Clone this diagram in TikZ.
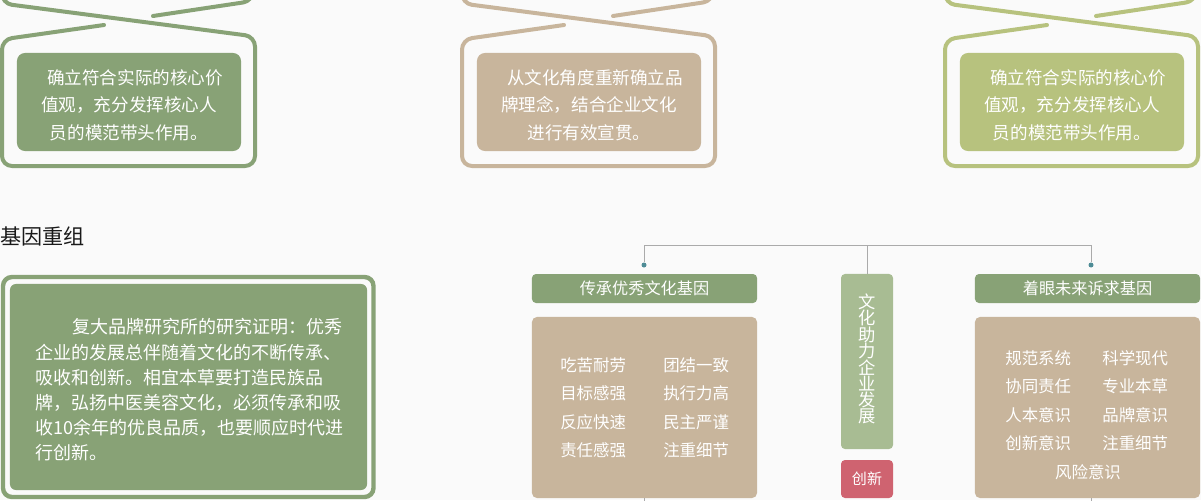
\documentclass[tikz,border=0pt]{standalone}
\usepackage{fontspec}
\newfontfamily\cjk{Noto Sans CJK SC}
\definecolor{paper}{HTML}{FAFAFA}
\definecolor{sagegreen}{HTML}{88A276}
\definecolor{sand}{HTML}{C8B59C}
\definecolor{limegreen}{HTML}{B7C27E}
\definecolor{mistgreen}{HTML}{A8BC93}
\definecolor{rosered}{HTML}{CF6370}
\definecolor{dotteal}{HTML}{4E8C96}
\definecolor{wiregray}{HTML}{AAAAAA}
\begin{document}
\begin{tikzpicture}[x=0.025cm,y=-0.025cm,
		frame/.style={line width=0.1cm,line cap=round,rounded corners=0.25cm},
		toppanel/.style={rounded corners=0.2cm,minimum width=5.6cm,minimum height=2.45cm,inner sep=0},
		toptext/.style={inner sep=0,text=white,align=center,font=\cjk\fontsize{12.5}{19.6}\selectfont},
		para/.style={anchor=west,inner sep=0,text=white,font=\cjk\fontsize{12.8}{15}\selectfont},
		hdr/.style={fill=sagegreen,rounded corners=0.1cm,minimum width=5.625cm,minimum height=0.725cm,inner sep=0,text=white,font=\cjk\fontsize{11.5}{14}\selectfont},
		listbox/.style={fill=sand,rounded corners=0.125cm,minimum width=5.625cm,minimum height=4.525cm,inner sep=0},
		item/.style={inner sep=0,text=white,font=\cjk\fontsize{11.7}{14}\selectfont},
		wire/.style={draw=wiregray,line width=0.025cm},
		dot/.style={circle,fill=dotteal,inner sep=0,minimum size=0.125cm}]
		\useasboundingbox (0,0) rectangle (1201,500);
		\fill[paper] (0,0) rectangle (1201,500);
		\foreach \o/\c/\la/\lb/\lc in {0/sagegreen/确立符合实际的核心价/值观，充分发挥核心人/员的模范带头作用。,460/sand/从文化角度重新确立品/牌理念，结合企业文化/进行有效宣贯。,943/limegreen/确立符合实际的核心价/值观，充分发挥核心人/员的模范带头作用。}{
			\draw[frame,draw=\c] (\o+104,25) -- (\o+2,39.5) -- (\o+2,166) -- (\o+255,166) -- (\o+255,36.5) -- (\o+2,3.5) -- (\o+2,-40);
			\draw[frame,draw=\c] (\o+153,16) -- (\o+253,1) -- (\o+253,-40);
			\node[toppanel,fill=\c] (top\o) at (\o+129,102) {};
			\node[toptext] (topt\o) at (\o+129,105) {\hspace*{0.3cm}\la\\\lb\\\lc};
		}
		\node[anchor=west,inner sep=0,text=black!90,font=\cjk\fontsize{15}{18}\selectfont] (title) at (0,236) {基因重组};
		\draw[line width=0.11cm,draw=sagegreen,rounded corners=0.225cm] (3,277) rectangle (373.5,497);
		\node[fill=sagegreen,rounded corners=0.15cm,minimum width=8.925cm,minimum height=5.15cm,inner sep=0] (story) at (188.5,387) {};
		\foreach \x/\t [count=\i] in {72/复大品牌研究所的研究证明：优秀,35/企业的发展总伴随着文化的不断传承、,35/吸收和创新。相宜本草要打造民族品,35/牌，弘扬中医美容文化，必须传承和吸,35/收10余年的优良品质，也要顺应时代进,35/行创新。}
			\node[para] (line\i) at (\x,301.8+25.2*\i) {\t};
		\node[hdr] (heritage) at (644.5,288.5) {传承优秀文化基因};
		\node[listbox] (heritagelist) at (644.5,407.5) {};
		\foreach \a/\b [count=\i] in {吃苦耐劳/团结一致,目标感强/执行力高,反应快速/民主严谨,责任感强/注重细节}{
			\node[item,anchor=west] (ha\i) at (560,336.5+28.5*\i) {\a};
			\node[item,anchor=west] (hb\i) at (663,336.5+28.5*\i) {\b};
		}
		\node[hdr] (future) at (1087.5,288.5) {着眼未来诉求基因};
		\node[listbox] (futurelist) at (1087.5,407.5) {};
		\foreach \a/\b [count=\i] in {规范系统/科学现代,协同责任/专业本草,人本意识/品牌意识,创新意识/注重细节}{
			\node[item,anchor=west] (fa\i) at (1005,329.5+28.5*\i) {\a};
			\node[item,anchor=west] (fb\i) at (1102,329.5+28.5*\i) {\b};
		}
		\node[item] (fc) at (1088,472) {风险意识};
		\node[fill=mistgreen,rounded corners=0.1cm,minimum width=1.3cm,minimum height=4.375cm,inner sep=0] (boost) at (867,361.5) {};
		\foreach \t [count=\i] in {文,化,助,力,企,业,发,展}
			\node[inner sep=0,text=white,font=\cjk\fontsize{12.3}{14}\selectfont] (bc\i) at (867,285.6+16.4*\i) {\t};
		\node[fill=rosered,rounded corners=0.1cm,minimum width=1.3cm,minimum height=0.95cm,inner sep=0,text=white,font=\cjk\fontsize{10.7}{13}\selectfont] (innov) at (867,479) {创新};
		\coordinate (bar) at (0,245);
		\coordinate (floor) at (0,503);
		\node[dot] (dotA) at (644,265) {};
		\node[dot] (dotB) at (1091,265) {};
		\draw[wire] (dotA) -- (dotA |- bar) -- (dotB |- bar) -- (dotB);
		\draw[wire] (boost.north) -- (boost.north |- bar);
		\draw[wire] (heritagelist.south -| dotA) -- (dotA |- floor);
		\draw[wire] (futurelist.south -| dotB) -- (dotB |- floor);
	\end{tikzpicture}
\end{document}
